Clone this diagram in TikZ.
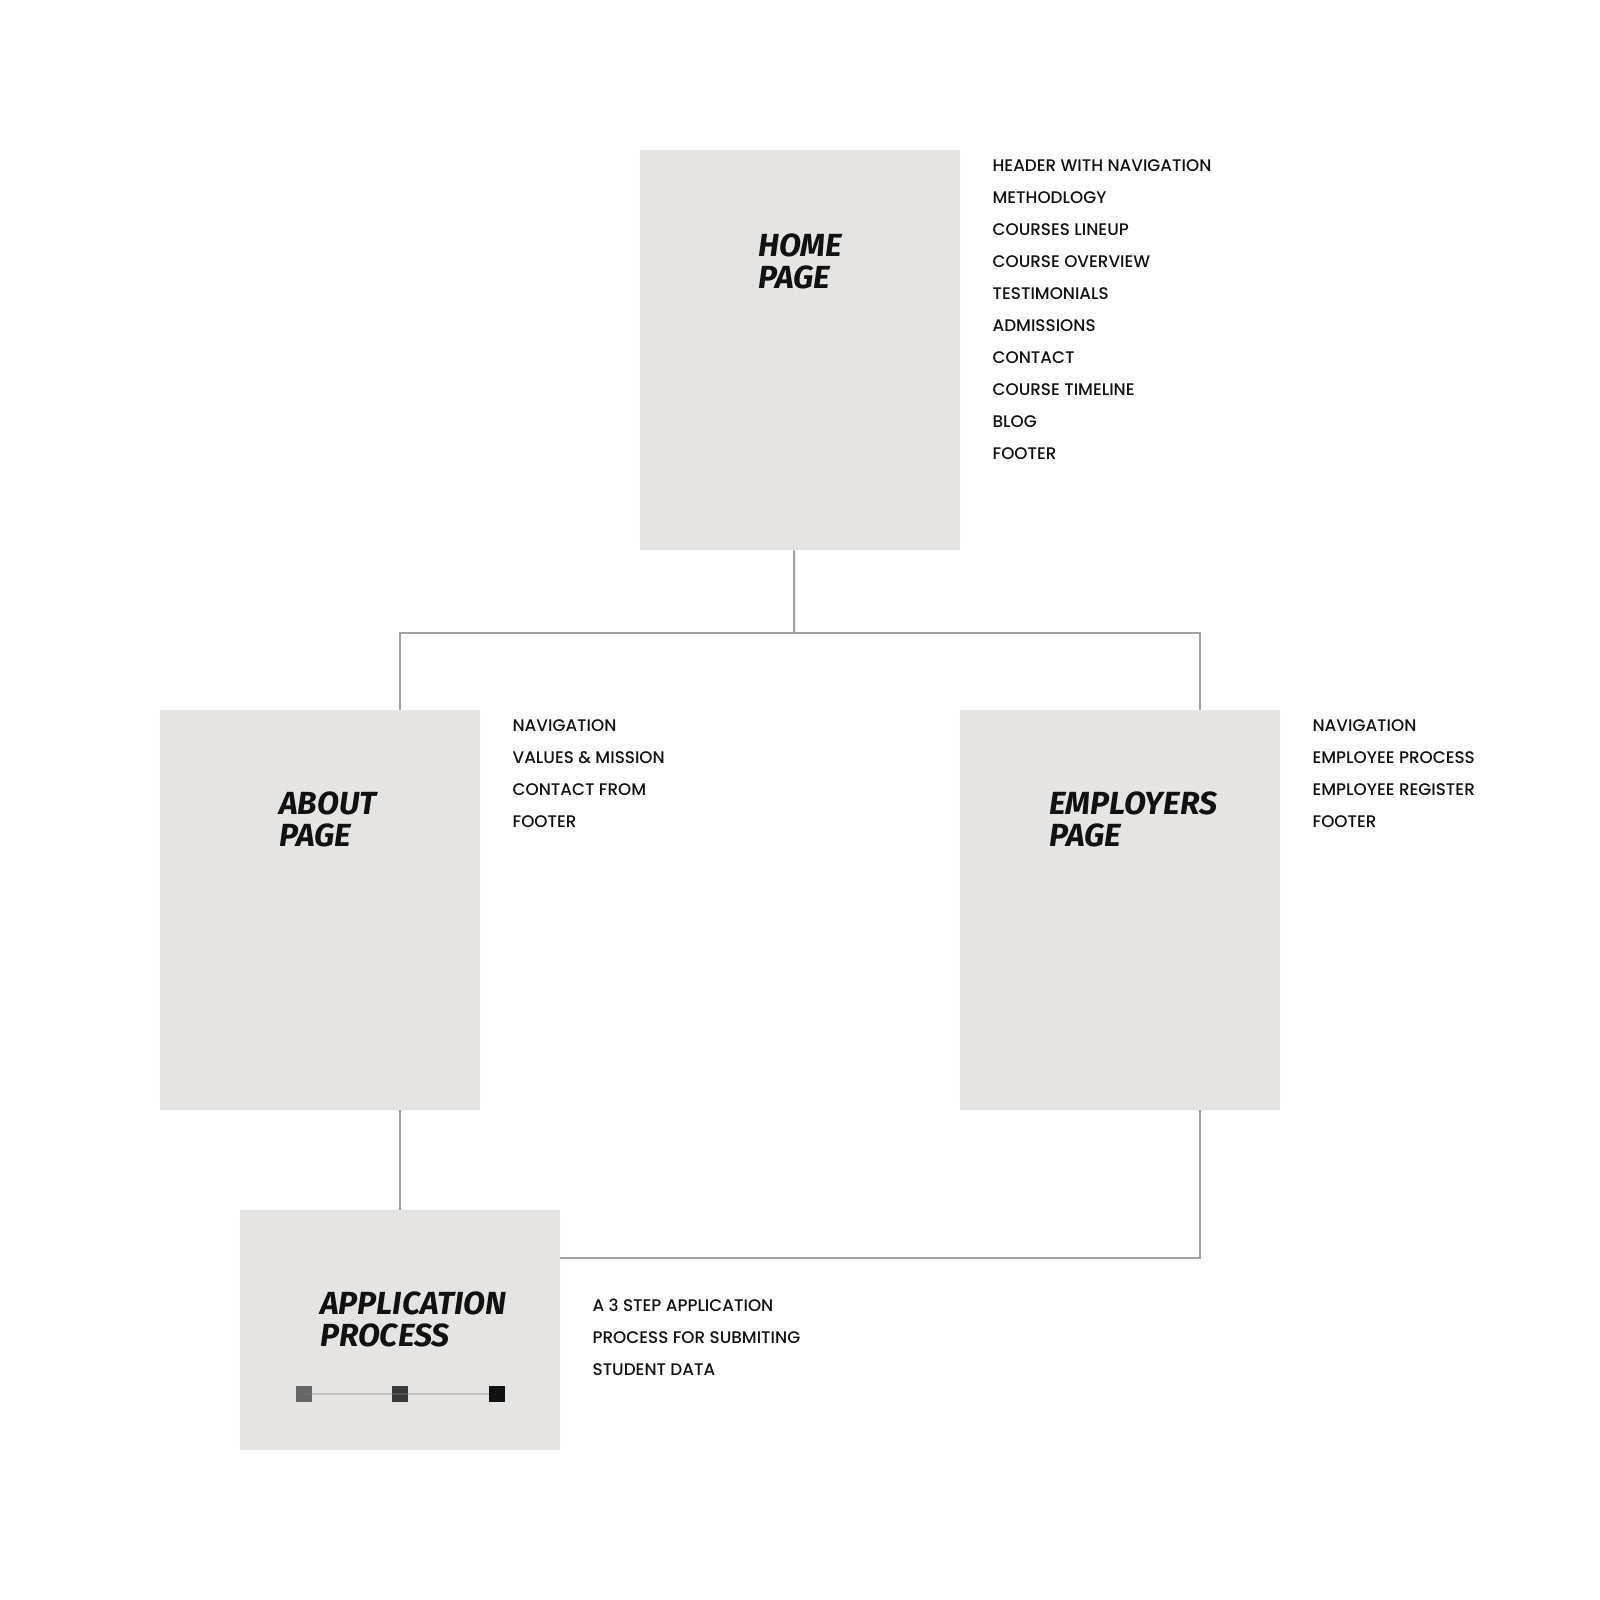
\documentclass[tikz,border=0pt]{standalone}
\usepackage{fontspec}
\usepackage{tikz}
\usetikzlibrary{positioning}
\newfontfamily\listfont{Poppins Medium}
\newfontfamily\titlefont{Fira Sans}
\definecolor{boxgray}{HTML}{E5E4E2}
\definecolor{linkgray}{HTML}{A0A0A0}
\definecolor{ink}{HTML}{111111}

\begin{document}
\begin{tikzpicture}[x=1pt, y=-1pt,
	page/.style = {fill=boxgray, inner sep=0pt, minimum width=320pt},
	title/.style = {anchor=north west, inner sep=0pt, align=left, text=ink,
		font=\titlefont\bfseries\itshape\fontsize{32}{31.5}\selectfont},
	items/.style = {inner sep=0pt, align=left, text=ink,
		font=\listfont\fontsize{16.8}{32}\selectfont},
	link/.style = {draw=linkgray, line width=2pt},
	stepbox/.style = {minimum size=16pt, inner sep=0pt},
]
	\useasboundingbox (0,0) rectangle (1600,1600);

	\node (home) [page, minimum height=400pt, anchor=north west] at (640,150) {};
	\node (about) [page, minimum height=400pt, anchor=north west] at (160,710) {};
	\node (employers) [page, minimum height=400pt, anchor=north west] at (960,710) {};
	\node (app) [page, minimum height=240pt, anchor=north west] at (240,1210) {};

	\node (hometitle) [title, below right = 84pt and 118pt of home.north west] {HOME\\PAGE};
	\node (abouttitle) [title, below right = 82pt and 119pt of about.north west] {ABOUT\\PAGE};
	\node (employerstitle) [title, below right = 82pt and 89pt of employers.north west] {EMPLOYERS\\PAGE};
	\node (apptitle) [title, below right = 82pt and 80pt of app.north west] {APPLICATION\\PROCESS};

	\node (homelist) [items, below right = 9pt and 32pt of home.north east] {HEADER WITH NAVIGATION\\METHODLOGY\\COURSES LINEUP\\COURSE OVERVIEW\\TESTIMONIALS\\ADMISSIONS\\CONTACT\\COURSE TIMELINE\\BLOG\\FOOTER};
	\node (aboutlist) [items, below right = 9pt and 32pt of about.north east] {NAVIGATION\\VALUES \& MISSION\\CONTACT FROM\\FOOTER};
	\node (employerslist) [items, below right = 9pt and 32pt of employers.north east] {NAVIGATION\\EMPLOYEE PROCESS\\EMPLOYEE REGISTER\\FOOTER};
	\node (applist) [items, below right = 89pt and 32pt of app.north east] {A 3 STEP APPLICATION\\PROCESS FOR SUBMITING\\STUDENT DATA};

	% three steps
	\node (s1) [stepbox, fill=black!60] at (304,1394) {};
	\node (s2) [stepbox, fill=black!78, right = 80pt of s1] {};
	\node (s3) [stepbox, fill=ink, right = 80pt of s2] {};
	\draw [draw=black!50, opacity=0.32, line width=2pt] (s1.center) -- (s3.west);

	% connectors
	\coordinate (hub) at (794,633);
	\draw [link] ([xshift=-6pt]home.south) -- (hub);
	\draw [link] ([xshift=80pt]about.north) |- (hub) -| ([xshift=80pt]employers.north);
	\draw [link] ([xshift=80pt]about.south) -- (app.north);
	\draw [link] ([xshift=80pt]employers.south) |- ([yshift=-48pt]app.north east);
\end{tikzpicture}
\end{document}
